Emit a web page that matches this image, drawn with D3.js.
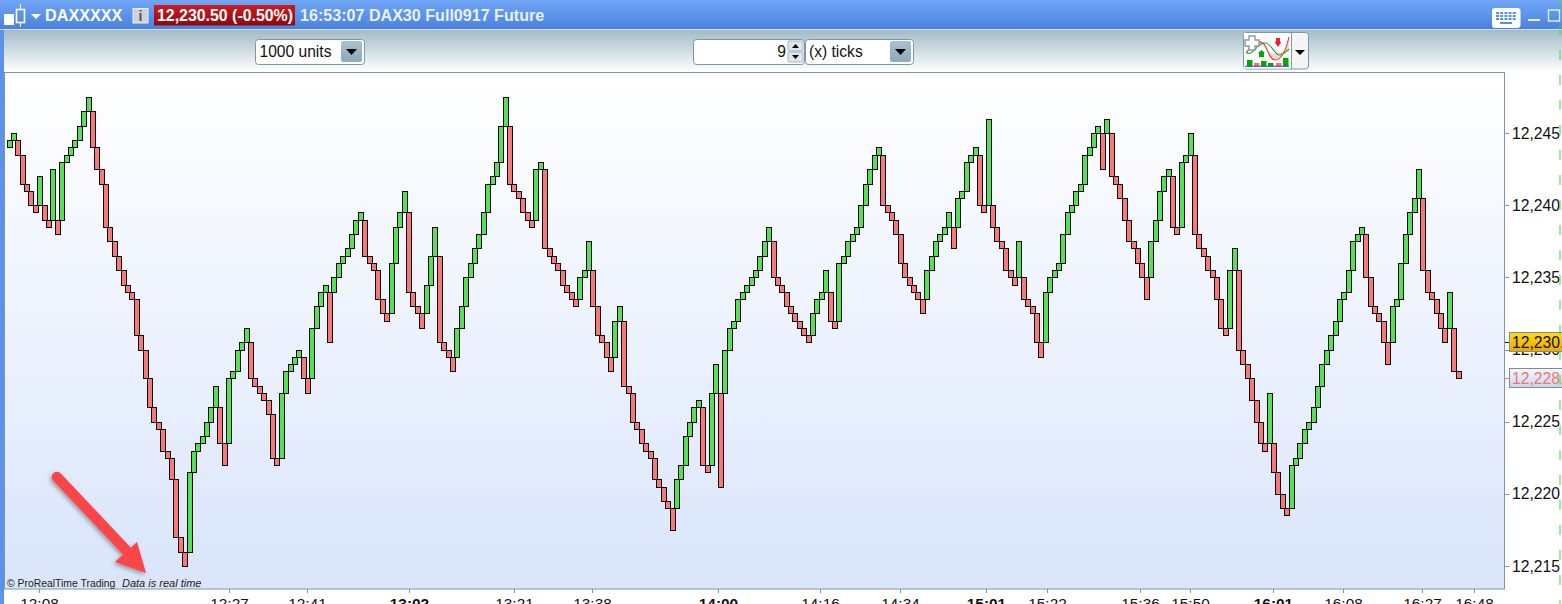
<!DOCTYPE html>
<html><head><meta charset="utf-8">
<script src="https://cdn.jsdelivr.net/npm/d3@7/dist/d3.min.js"></script>
<style>html,body{margin:0;padding:0;background:#fff;overflow:hidden}svg{display:block}text{font-family:"Liberation Sans",Arial,sans-serif}</style>
</head><body><div id="c"></div>
<script>
const firstOpen = 12244;
const closes = [
12244.5,12245,12243.5,12241.5,12241,12240,12239.5,12242,12239,12238.5,12242.5,12238,12243,12243.5,12244,12244.5,12245.5,12246.5,12247.5,12244,12242.5,12241.5,12238.5,12237.5,
12236.5,12235.5,12234.5,12234,12233.5,12231,12230,12228,12226,12225,12224.5,12223,12222.5,12221,12217,12216,12215,12221.5,12223,12223.5,12224,12225,12226,12227.5,12223.5,12222,12228,12228.5,12230,12230.5,12231.5,12228,
12227.5,12227,12226.5,12225.5,12222.5,12222,12227,12228.5,12229,12229.5,12230,12228,12227,12231.5,12233,12234,12234.5,12230.5,12235,12236,12236.5,12237,12238,12239,12239.5,12236.5,12236,12235.5,12233.5,12232.5,12232,12236,12238.5,12239.5,12241,12234,12233,12232.5,12231.5,12234.5,12236.5,12238.5,12230.5,12230,12229.5,12228.5,12231.5,12233,12235,12236,12237,12238,12239.5,12241.5,
12242,12243,12245.5,12247.5,12241.5,12241,12240.5,12239.5,12239,12238.5,12242.5,12243,12237,12236.5,12236,12235.5,12234.5,12234,12233.5,12233,12235,12235.5,12237.5,12233,
12231,12230.5,12229.5,12228.5,12232,12233,12227.5,12227,12225,12224.5,12223.5,12223,12222.5,12221,12220.5,12219.5,12219,12217.5,12221,12222,12224,12225,12226,12226.5,12222,12221.5,12227,12229,12220.5,12230,12231.5,12232,12233.5,
12234,12234.5,12235,12235.5,12236.5,12237.5,12238.5,12235,12234.5,12234,12233,12232.5,12232,12231.5,12231,12230.5,12232.5,12233.5,12234,12235.5,12232,12231.5,12236,12236.5,12237.5,12238,12238.5,12240,12241.5,12242.5,12243.5,12244,12240,12239.5,12239,12238,12236,12235,12234.5,12234,12233.5,12232.5,12235.5,12236.5,12237.5,12238,12238.5,12239.5,12237,12240.5,12241,12243,12243.5,12244,12240,12239.5,
12246,12238.5,12237.5,12237,12235.5,12235,12234.5,12237.5,12233.5,12233,12232.5,12230.5,12229.5,12234,12235,12235.5,12236,12238,12239.5,12240,12241,12241.5,12243.5,12244,12245,12245.5,12242.5,12246,12242,12241.5,12240.5,12239,12237.5,12237,12236,12235,12233.5,12237.5,12239,12241,12242,12242.5,12238.5,12238,12243,12243.5,12245,12238,12237,12236.5,12235.5,12235,12233.5,12231.5,12231,12235.5,12237,12230,
12229,12228,12226.5,12225,12223.5,12223,12227,12221.5,12220,12219,12218.5,12222,12222.5,12223.5,12224.5,12225,12226,12227.5,12229,12230,12231,12232,12233.5,12234,12235.5,12237.5,12238,12238.5,12235,12233,12232.5,12232,12230.5,12229,12233,12233.5,12236,12238,12239.5,12240.5,12242.5,12235.5,12234,12233.5,12232.5,12231.5,12230.5,12234,12228.5,12228];
const yTicks = [12215,12220,12225,12230,12235,12240,12245];
const timeLabels = ["12:08","12:27","12:41","13:02","13:21","13:38","14:00","14:16","14:34","15:01","15:22","15:36","15:50","16:01","16:08","16:27","16:48"];
const timeBars = [6.8,50.1,67.9,91.1,115,132.8,161.5,184.7,202.9,222.5,236.4,257.6,269,287.9,303.8,321.8,333.6];
const boldLabels = ["13:02","14:00","15:01","16:01"];
const lastPrice = 12230.5, currentBar = 12228;

const W=1562,H=604;
const svg=d3.select("#c").append("svg").attr("width",W).attr("height",H);
const defs=svg.append("defs");
function grad(id,stops){const g=defs.append("linearGradient").attr("id",id).attr("x1",0).attr("y1",0).attr("x2",0).attr("y2",1);
 stops.forEach(([o,c])=>g.append("stop").attr("offset",o).attr("stop-color",c));}
grad("gPanel",[[0,"#ffffff"],[1,"#dae5fb"]]);
grad("gTitle",[[0,"#6fa6f6"],[1,"#4a80dd"]]);
grad("gBar",[[0,"#a2bbc7"],[1,"#ffffff"]]);
grad("gPrice",[[0,"#cc1c20"],[1,"#8e090d"]]);
grad("gBtn",[[0,"#a8c0cf"],[1,"#8cabbb"]]);
grad("gYel",[[0,"#ffdc10"],[1,"#efa800"]]);
grad("gCur",[[0,"#f6f8fd"],[1,"#c9d4ea"]]);
const sh=defs.append("filter").attr("id","sh").attr("x","-30%").attr("y","-30%").attr("width","160%").attr("height","160%");
sh.append("feDropShadow").attr("dx",-1.5).attr("dy",2).attr("stdDeviation",2).attr("flood-color","#555").attr("flood-opacity",.55);

// frame
svg.append("rect").attr("width",W).attr("height",H).attr("fill","#fff");
svg.append("rect").attr("x",0).attr("y",0).attr("width",W).attr("height",30).attr("fill","url(#gTitle)");
svg.append("rect").attr("x",0).attr("y",29).attr("width",W).attr("height",1.5).attr("fill","#cfe0fa");
svg.append("rect").attr("x",4).attr("y",30).attr("width",W-4).attr("height",42).attr("fill","url(#gBar)");
svg.append("rect").attr("x",0).attr("y",30).attr("width",4).attr("height",H-30).attr("fill","#5c93ea");

const y=d3.scaleLinear().domain([12215,12245]).range([566,133]);
const x=d3.scaleLinear().domain([0,closes.length-1]).range([9,1458]);
const px=v=>Math.round(v)+.5;

// panel
svg.append("rect").attr("x",4.5).attr("y",72.5).attr("width",1500).attr("height",516.5).attr("fill","url(#gPanel)").attr("stroke","#7d97a4");

// axes
const gy=svg.append("g");
yTicks.forEach(t=>{gy.append("line").attr("x1",1505).attr("x2",1509).attr("y1",px(y(t))).attr("y2",px(y(t))).attr("stroke","#7d97a4");
 gy.append("text").attr("x",1512).attr("y",y(t)+5.5).attr("font-size",15.7).attr("fill","#111").text(d3.format(",")(t));});
const gx=svg.append("g");
timeLabels.forEach((t,i)=>{const xp=px(x(timeBars[i]));
 gx.append("line").attr("x1",xp).attr("x2",xp).attr("y1",589).attr("y2",593).attr("stroke","#7d97a4");
 gx.append("text").attr("x",xp).attr("y",608.5).attr("text-anchor","middle").attr("font-size",15.4).attr("fill","#111")
  .attr("font-weight",boldLabels.includes(t)?"bold":"normal").text(t);});

// bars
const bars=[];
closes.forEach((c,i)=>{
 let op;
 if(i===0){op=firstOpen;}
 else{const p=bars[i-1];const up=p.c>p.o;
  if(up) op=c>p.c?p.c:p.o; else op=c<p.c?p.c:p.o;}
 bars.push({i,o:op,c});
});
svg.append("g").selectAll("rect").data(bars).join("rect")
 .attr("x",d=>Math.round(x(d.i)-2.5)+.5).attr("width",5)
 .attr("y",d=>px(y(Math.max(d.o,d.c))))
 .attr("height",d=>px(y(Math.min(d.o,d.c)))-px(y(Math.max(d.o,d.c))))
 .attr("fill",d=>d.c>d.o?"#55e055":"#f67878").attr("stroke","#0a0a0a").attr("stroke-width",1);

// price tags
function tag(val,fill,txt,tc){const cy=Math.round(y(val));
 svg.append("line").attr("x1",1505).attr("x2",1509).attr("y1",cy+.5).attr("y2",cy+.5).attr("stroke",tc);
 svg.append("rect").attr("x",1509.5).attr("y",cy-9.5).attr("width",60).attr("height",19).attr("fill",fill).attr("stroke","#7d8a9a");
 svg.append("text").attr("x",1512).attr("y",cy+6).attr("font-size",15.7).attr("fill",tc).text(txt);}
tag(lastPrice,"url(#gYel)",d3.format(",.1f")(lastPrice).slice(0,7),"#111");
tag(currentBar,"url(#gCur)",d3.format(",.1f")(currentBar).slice(0,7),"#ee7676");

// watermark
svg.append("text").attr("x",7).attr("y",587).attr("font-size",10.4).attr("fill","#222").text("© ProRealTime Trading");
svg.append("text").attr("x",122).attr("y",587).attr("font-size",11).attr("font-style","italic").attr("fill","#222").text("Data is real time");

// arrow
const ar=svg.append("g").attr("filter","url(#sh)");
ar.append("line").attr("x1",57).attr("y1",477).attr("x2",126).attr("y2",550).attr("stroke","#fb4446").attr("stroke-width",10.5).attr("stroke-linecap","round");
ar.append("polygon").attr("points","146,573 115,562 137,542").attr("fill","#fb4446");

// title bar
const T=svg.append("g");
T.append("rect").attr("x",4).attr("y",14).attr("width",10).attr("height",11).attr("fill","#fff");
T.append("rect").attr("x",16.5).attr("y",9.5).attr("width",8).attr("height",13).attr("fill","none").attr("stroke","#fff").attr("stroke-width",1.6);
T.append("line").attr("x1",20.5).attr("x2",20.5).attr("y1",4).attr("y2",27).attr("stroke","#fff").attr("stroke-dasharray","5.5,13,5");
T.append("polygon").attr("points","31,14 41,14 36,19").attr("fill","#fff");
T.append("text").attr("x",45).attr("y",21).attr("font-size",16.2).attr("font-weight","bold").attr("fill","#fff").text("DAXXXXX");
T.append("rect").attr("x",133).attr("y",8.5).attr("width",15).attr("height",14.5).attr("fill","#cfd2d6").attr("stroke","#eef");
T.append("text").attr("x",140.5).attr("y",21).attr("text-anchor","middle").attr("font-size",14).attr("font-weight","bold").attr("fill","#555").text("i");
T.append("rect").attr("x",154).attr("y",5).attr("width",141).attr("height",20.5).attr("fill","url(#gPrice)");
T.append("text").attr("x",157).attr("y",21).attr("font-size",15.9).attr("font-weight","bold").attr("fill","#fff").text("12,230.50 (-0.50%)");
T.append("text").attr("x",300).attr("y",21).attr("font-size",16.1).attr("font-weight","bold").attr("fill","#eaf2ff").text("16:53:07 DAX30 Full0917 Future");
T.append("rect").attr("x",1492).attr("y",8).attr("width",28.5).attr("height",20).attr("rx",3).attr("fill","#fff");
d3.range(3).forEach(r=>d3.range(5).forEach(c=>T.append("rect").attr("x",1496+c*4.2).attr("y",12+r*3).attr("width",3).attr("height",2).attr("fill","#5c8fe0")));
T.append("rect").attr("x",1500).attr("y",22).attr("width",12).attr("height",2).attr("fill","#5c8fe0");
T.append("rect").attr("x",1528).attr("y",19).attr("width",12).attr("height",2).attr("fill","#e6efff");
T.append("rect").attr("x",1548.5).attr("y",10).attr("width",11).attr("height",11).attr("fill","none").attr("stroke","#e6efff").attr("stroke-width",1.4);

// toolbar
function box(x0,w){svg.append("rect").attr("x",x0+.5).attr("y",39.5).attr("width",w).attr("height",25).attr("rx",3).attr("fill","#fff").attr("stroke","#7d97a4");}
function btn(x0){svg.append("rect").attr("x",x0).attr("y",41).attr("width",21).attr("height",21).attr("rx",2).attr("fill","url(#gBtn)");
 svg.append("polygon").attr("points",`${x0+5},49 ${x0+16},49 ${x0+10.5},55`).attr("fill","#000");}
box(255,109);btn(341);
svg.append("text").attr("x",259.5).attr("y",57).attr("font-size",15.6).attr("fill","#111").text("1000 units");
box(693,111);
svg.append("text").attr("x",786).attr("y",57).attr("text-anchor","end").attr("font-size",15.6).attr("fill","#111").text("9");
svg.append("rect").attr("x",788).attr("y",41).attr("width",15).attr("height",10).attr("rx",1).attr("fill","#dfe7ec").attr("stroke","#9fb3be");
svg.append("rect").attr("x",788).attr("y",52).attr("width",15).attr("height",10).attr("rx",1).attr("fill","#dfe7ec").attr("stroke","#9fb3be");
svg.append("polygon").attr("points","792,48 799,48 795.5,44").attr("fill","#000");
svg.append("polygon").attr("points","792,55 799,55 795.5,59").attr("fill","#000");
box(805,108);btn(890);
svg.append("text").attr("x",809).attr("y",57).attr("font-size",15.6).attr("fill","#111").text("(x) ticks");

// indicator button
const I=svg.append("g");
I.append("rect").attr("x",1243.5).attr("y",32.5).attr("width",65).attr("height",36.5).attr("rx",3).attr("fill","#f4f4f4").attr("stroke","#7d97a4");
I.append("rect").attr("x",1244).attr("y",33).attr("width",47.5).attr("height",35.5).attr("fill","#fff");
I.append("line").attr("x1",1291.5).attr("x2",1291.5).attr("y1",33).attr("y2",69).attr("stroke","#7d97a4");
I.append("polygon").attr("points","1295,50 1305,50 1300,55").attr("fill","#000");
I.append("path").attr("d","M1246,53 C1252,44 1258,38 1264,44 C1268,50 1270,60 1275,60 C1282,60 1286,50 1289,37 L1289,53 C1284,46 1278,58 1270,52 C1264,46 1258,40 1250,50 Z").attr("fill","#f6d6d6");
I.append("path").attr("d","M1246,53 C1252,44 1258,38 1264,44 C1268,50 1270,60 1275,60 C1282,60 1286,50 1289,37").attr("fill","none").attr("stroke","#d33").attr("stroke-width",1.1);
I.append("path").attr("d","M1246,52 C1252,58 1256,44 1264,43 C1272,42 1274,56 1280,55 C1284,54 1286,52 1289,49").attr("fill","none").attr("stroke","#2a2").attr("stroke-width",1.1);
I.append("path").attr("d","M1249,36 h6 v4 h4 v6 h-4 v4 h-6 v-4 h-4 v-6 h4 Z").attr("fill","#fff").attr("stroke","#8a9aa6").attr("stroke-width",1.4);
I.append("polygon").attr("points","1258,53 1261.5,50 1265,53").attr("fill","#0a0");
I.append("rect").attr("x",1259).attr("y",53).attr("width",5).attr("height",4).attr("fill","#0a0");
I.append("rect").attr("x",1276).attr("y",38).attr("width",4).attr("height",5).attr("fill","#e22");
I.append("polygon").attr("points","1274.5,42 1281.5,42 1278,47").attr("fill","#e22");
[[1247,6,"#0a0"],[1254,3,"#e77"],[1261,5,"#0a0"],[1268,3,"#0a0"],[1276,3,"#e77"],[1283,8,"#0a0"]].forEach(([a,h,c])=>
 I.append("rect").attr("x",a).attr("y",66-h).attr("width",5.5).attr("height",h).attr("fill",c));
I.append("line").attr("x1",1245).attr("x2",1289).attr("y1",66.3).attr("y2",66.3).attr("stroke","#22c").attr("stroke-width",.9);

// green dashes at right edge
svg.append("line").attr("x1",1560).attr("x2",1560).attr("y1",0).attr("y2",H).attr("stroke","#35e035").attr("stroke-width",1).attr("stroke-dasharray","10,15");
</script></body></html>
